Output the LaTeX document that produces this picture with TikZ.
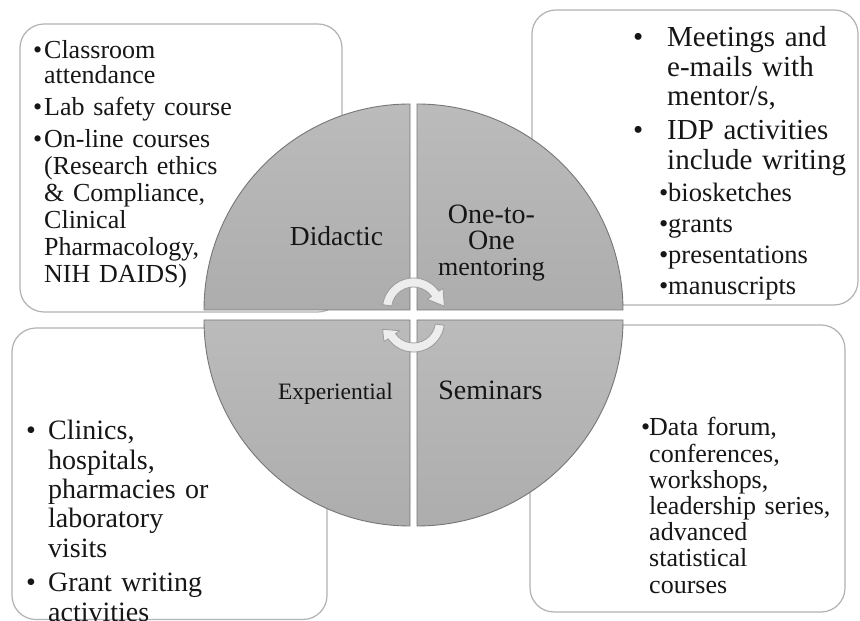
\documentclass[tikz,border=0pt]{standalone}
\usepackage{fontspec}
\setmainfont{Liberation Serif}
\definecolor{quadtop}{HTML}{BBBBBB}
\definecolor{quadbot}{HTML}{ADADAD}
\definecolor{quadline}{HTML}{767676}
\definecolor{boxline}{HTML}{B2B2B2}
\definecolor{arrowfill}{HTML}{EDEDED}
\definecolor{arrowline}{HTML}{9C9C9C}
\definecolor{txt}{HTML}{161616}
\newcommand{\bul}[1]{\makebox[#1][l]{\textbullet}}
\newcommand{\fsz}[2]{\fontsize{#1}{#2}\selectfont}
\begin{document}
\begin{tikzpicture}[
	x=1pt, y=1pt,
	line join=round,
	box/.style={draw=boxline, line width=1.2pt, fill=white, rounded corners=24pt},
	quad/.style={draw=quadline, line width=0.9pt, top color=quadtop, bottom color=quadbot},
	cyc/.style={draw=arrowline, line width=0.8pt, fill=arrowfill},
	list/.style={anchor=base west, inner sep=0pt, text width=300pt, align=left, text=txt},
	lbl/.style={anchor=base, inner sep=0pt, text=txt}
	]
	\useasboundingbox (0,0) rectangle (860,621);
	\clip (0,0) rectangle (860,621);
	\fill[white] (0,0) rectangle (860,621);
	% boxes behind the circle
	\draw[box] (20,309) rectangle (342,597);
	\draw[box] (532,316) rectangle (858,611);
	\draw[box] (12,1.5) rectangle (327,293);
	\draw[box] (530,9) rectangle (845,296);
	% four quarters
	\foreach \cx/\cy/\a in {410/311/90, 417/311/0, 410/301/180, 417/301/270}
		\draw[quad] (\cx,\cy) -- ++(\a:206) arc[start angle=\a, delta angle=90, radius=206] -- cycle;
	% cycle arrows
	\begin{scope}[shift={(413.5,312)}]
		\draw[cyc] (172:31) arc[start angle=172, end angle=35, radius=31] -- (35:36) -- (5:31) -- (35:17) -- (35:22) arc[start angle=35, end angle=172, radius=22] -- cycle;
	\end{scope}
	\begin{scope}[shift={(413.5,300)}]
		\draw[cyc] (-8:31) arc[start angle=-8, end angle=-145, radius=31] -- (-145:36) -- (-165:32) -- (-145:17) -- (-145:22) arc[start angle=-145, end angle=-8, radius=22] -- cycle;
	\end{scope}
	% quarter labels
	\node[lbl, font=\fsz{27.5}{30}] (didactic) at (336.5,375) {Didactic};
	\node[lbl, font=\fsz{28}{26}, text width=130pt, align=center] (oneToOne) at (491.5,397) {One-to-\\One\\{\fsz{26}{26}mentoring}};
	\node[lbl, font=\fsz{23.5}{26}] (experiential) at (335.5,221) {Experiential};
	\node[lbl, font=\fsz{28}{30}] (seminars) at (490.5,221) {Seminars};
	% box texts
	\node[list, font=\fsz{26}{25}] (didList) at (33,562) {\bul{11pt}Classroom\\\hspace*{11pt}attendance\\[7pt]\bul{11pt}Lab safety course\\[7pt]\bul{11pt}On-line courses\\[2pt]\hspace*{11pt}(Research ethics\\[2pt]\hspace*{11pt}\&~Compliance,\\[2pt]\hspace*{11pt}Clinical\\[2pt]\hspace*{11pt}Pharmacology,\\[2pt]\hspace*{11pt}NIH DAIDS)};
	\node[list, font=\fsz{29}{29.5}] (oneList) at (633,574) {\bul{34pt}Meetings and\\\hspace*{34pt}e-mails with\\\hspace*{34pt}mentor/s,\\[4.5pt]\bul{34pt}IDP activities\\\hspace*{34pt}include writing};
	\node[list, font=\fsz{26.5}{31}] (oneSub) at (659,419) {\bul{9pt}biosketches\\\bul{9pt}grants\\\bul{9pt}presentations\\\bul{9pt}manuscripts};
	\node[list, font=\fsz{28}{29.3}] (expList) at (26,181) {\bul{22pt}Clinics,\\\hspace*{22pt}hospitals,\\\hspace*{22pt}pharmacies or\\\hspace*{22pt}laboratory\\\hspace*{22pt}visits\\[5.5pt]\bul{22pt}Grant writing\\\hspace*{22pt}activities};
	\node[list, font=\fsz{26}{26.2}] (semList) at (641,185) {\bul{8pt}Data forum,\\\hspace*{8pt}conferences,\\\hspace*{8pt}workshops,\\\hspace*{8pt}leadership series,\\\hspace*{8pt}advanced\\\hspace*{8pt}statistical\\\hspace*{8pt}courses};
\end{tikzpicture}
\end{document}
